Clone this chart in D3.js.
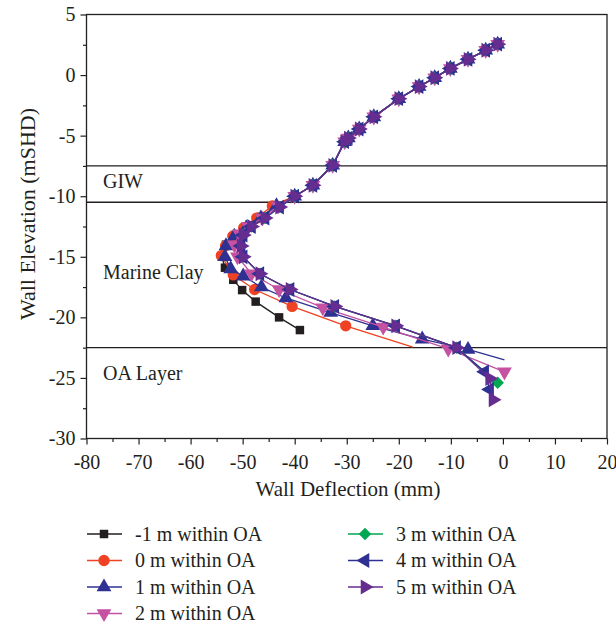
<!DOCTYPE html>
<html>
<head>
<meta charset="utf-8">
<script src="https://cdn.jsdelivr.net/npm/d3@7"></script>
<style>
  body { margin: 0; background: #fff; }
  svg text { font-family: "Liberation Serif", "Times New Roman", serif; fill: #231f20; }
</style>
</head>
<body>
<div id="chart"></div>
<script>
// upper part of the wall: all cases plot on top of each other
const upperElev = [2.55, 2.05, 1.3, 0.55, -0.22, -0.95, -1.95, -3.45, -4.45, -5.2, -5.5, -7.45, -9.1, -10.0];
const upperDefl = [-1, -3.3, -6.7, -10.1, -13.1, -16.1, -20, -24.8, -27.6, -29.7, -30.4, -32.7, -36.5, -40.0];

// lower part, per case (elevation, deflection)
const elevM1 = [-10.8, -11.7, -12.5, -13.2, -14.0, -15.0, -15.9, -16.9, -17.75, -18.7, -20.0, -21.05];
const deflM1 = [-43.5, -46.5, -49.2, -51.5, -53.2, -54.0, -53.4, -51.8, -50.1, -47.5, -43.0, -39.0];

const elev0 = [-10.8, -11.8, -12.6, -13.3, -14.1, -14.9, -16.5, -17.7, -19.1, -20.7, -22.45];
const defl0 = [-44.3, -47.3, -49.8, -51.9, -53.3, -54.1, -51.8, -47.7, -40.5, -30.2, -17.3];

const elev1 = [-10.8, -11.8, -12.6, -13.3, -14.1, -15.0, -16.0, -16.6, -17.5, -18.4, -19.6, -20.7, -21.8, -22.65, -23.5];
const defl1 = [-43.5, -46.5, -49.3, -51.6, -53.2, -53.4, -52.3, -49.9, -46.4, -41.7, -33.1, -25.0, -15.5, -6.7, 0.3];

const elev2 = [-10.8, -11.8, -12.5, -13.1, -14.0, -15.0, -16.4, -17.7, -19.2, -20.8, -22.6, -24.5];
const defl2 = [-43.2, -46.2, -48.9, -50.6, -51.6, -51.0, -48.3, -43.0, -34.6, -23.0, -10.5, 0.3];

const elev3 = [-10.9, -11.8, -12.5, -13.2, -14.1, -15.0, -16.4, -17.7, -19.1, -20.7, -22.5, -25.4];
const defl3 = [-42.9, -45.7, -48.3, -49.9, -50.3, -49.9, -46.7, -40.9, -32.3, -20.6, -8.9, -1.0];

const elev4 = [-10.9, -11.8, -12.5, -13.2, -14.1, -15.0, -16.4, -17.7, -19.1, -20.7, -22.5, -24.5, -25.95];
const defl4 = [-42.9, -45.7, -48.3, -49.9, -50.3, -49.9, -46.7, -40.9, -32.3, -20.6, -8.9, -3.5, -2.55];

const elev5 = [-10.9, -11.8, -12.5, -13.2, -14.1, -15.0, -16.4, -17.7, -19.1, -20.7, -22.5, -25.05, -26.8];
const defl5 = [-42.9, -45.7, -48.3, -49.9, -50.3, -49.9, -46.7, -40.9, -32.3, -20.6, -8.9, -2.55, -1.9];

const seriesNames = ["-1 m within OA", "0 m within OA", "1 m within OA", "2 m within OA",
                     "3 m within OA", "4 m within OA", "5 m within OA"];

const layerLines = [-7.5, -10.5, -22.5];
const layerLabels = [["GIW", -9.3], ["Marine Clay", -16.8], ["OA Layer", -25.2]];

const xTicks = [-80, -70, -60, -50, -40, -30, -20, -10, 0, 10, 20];
const yTicks = [5, 0, -5, -10, -15, -20, -25, -30];

const W = 616, H = 627;
const x = d3.scaleLinear().domain([-80, 20]).range([86.5, 607]);
const y = d3.scaleLinear().domain([-30, 5]).range([438.5, 14.5]);

const svg = d3.select('#chart').append('svg')
    .attr('width', W).attr('height', H);

// marker style per case; lastMark=false -> final point of the line has no marker
const styles = [
  {color: '#231f20', sym: d3.symbolSquare, size: 72, rot: 0, lastMark: true},
  {color: '#ef4123', sym: d3.symbolCircle, size: 100, rot: 0, lastMark: false},
  {color: '#2e3192', sym: d3.symbolTriangle, size: 95, rot: 0, lastMark: false},
  {color: '#c451a2', sym: d3.symbolTriangle, size: 95, rot: 180, lastMark: true},
  {color: '#00a651', sym: d3.symbolSquare, size: 78, rot: 45, lastMark: true},
  {color: '#2e3192', sym: d3.symbolTriangle, size: 95, rot: -90, lastMark: true},
  {color: '#662d91', sym: d3.symbolTriangle, size: 95, rot: 90, lastMark: true}
];

const lowerElev = [elevM1, elev0, elev1, elev2, elev3, elev4, elev5];
const lowerDefl = [deflM1, defl0, defl1, defl2, defl3, defl4, defl5];

const series = seriesNames.map((name, i) => {
  const pts = upperElev.map((e, j) => ({x: upperDefl[j], y: e}))
    .concat(lowerElev[i].map((e, j) => ({x: lowerDefl[i][j], y: e})));
  return {name, pts, st: styles[i]};
});

// frame
svg.append('rect')
    .attr('x', x(-80)).attr('y', y(5))
    .attr('width', x(20) - x(-80)).attr('height', y(-30) - y(5))
    .attr('fill', 'none').attr('stroke', '#231f20').attr('stroke-width', 1.3);

// layer boundaries
svg.selectAll('.layer').data(layerLines).enter().append('line')
    .attr('x1', x(-80)).attr('x2', x(20))
    .attr('y1', d => y(d)).attr('y2', d => y(d))
    .attr('stroke', '#231f20').attr('stroke-width', 1.3);

svg.selectAll('.layerLabel').data(layerLabels).enter().append('text')
    .attr('x', 103).attr('y', d => y(d[1]))
    .attr('font-size', 20)
    .text(d => d[0]);

// axes
const fmt = d => String(d);
const xAxis = svg.append('g').attr('transform', `translate(0,${y(-30)})`)
    .call(d3.axisBottom(x).tickValues(xTicks).tickSize(6).tickPadding(5).tickFormat(fmt));
svg.append('g').attr('transform', `translate(0,${y(-30)})`)
    .call(d3.axisBottom(x).tickValues(d3.range(-75, 20, 10)).tickSize(3.5).tickFormat(''));
svg.append('g').attr('transform', `translate(${x(-80)},0)`)
    .call(d3.axisLeft(y).tickValues(yTicks).tickSize(6).tickPadding(5).tickFormat(fmt));
svg.append('g').attr('transform', `translate(${x(-80)},0)`)
    .call(d3.axisLeft(y).tickValues(d3.range(-27.5, 5, 5)).tickSize(3.5).tickFormat(''));

svg.selectAll('.domain').remove();
svg.selectAll('.tick line').attr('stroke', '#231f20').attr('stroke-width', 1.2);
svg.selectAll('.tick text').attr('font-size', 20).attr('font-family', '"Liberation Serif", serif').attr('fill', '#231f20');
xAxis.selectAll('.tick text').attr('dy', '0.95em');

// axis titles
svg.append('text').attr('x', 348).attr('y', 496)
    .attr('text-anchor', 'middle').attr('font-size', 21)
    .text('Wall Deflection (mm)');
svg.append('text').attr('transform', 'translate(35,214) rotate(-90)')
    .attr('text-anchor', 'middle').attr('font-size', 22)
    .text('Wall Elevation (mSHD)');

// series
const line = d3.line().x(d => x(d.x)).y(d => y(d.y));
series.forEach(s => {
  const g = svg.append('g');
  g.append('path').attr('d', line(s.pts))
      .attr('fill', 'none').attr('stroke', s.st.color).attr('stroke-width', 1.3);
  const mk = s.st.lastMark ? s.pts : s.pts.slice(0, -1);
  const sym = d3.symbol().type(s.st.sym).size(s.st.size);
  g.selectAll('path.m').data(mk).enter().append('path')
      .attr('class', 'm')
      .attr('d', sym)
      .attr('transform', d => `translate(${x(d.x)},${y(d.y)}) rotate(${s.st.rot})`)
      .attr('fill', s.st.color);
});

// legend
const leg = svg.append('g');
series.forEach((s, i) => {
  const col = i < 4 ? 0 : 1;
  const row = i < 4 ? i : i - 4;
  const lx = col === 0 ? 87 : 348;
  const ly = 534 + row * 26.5;
  const g = leg.append('g').attr('transform', `translate(${lx},${ly})`);
  g.append('line').attr('x1', 0).attr('x2', 35)
      .attr('stroke', s.st.color).attr('stroke-width', 1.3);
  g.append('path').attr('d', d3.symbol().type(s.st.sym).size(s.st.size)())
      .attr('transform', `translate(17,0) rotate(${s.st.rot})`)
      .attr('fill', s.st.color);
  g.append('text').attr('x', 48).attr('y', 6.5).attr('font-size', 20).text(s.name);
});
</script>
</body>
</html>
